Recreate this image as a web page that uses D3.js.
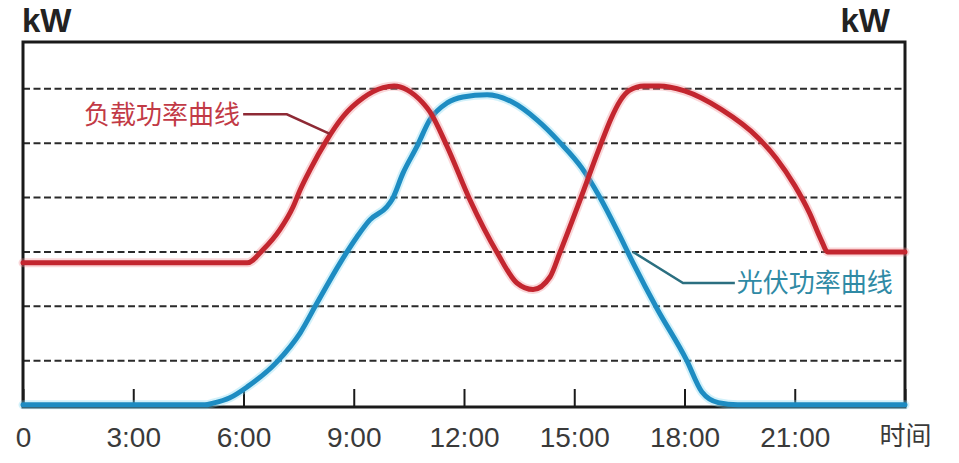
<!DOCTYPE html>
<html>
<head>
<meta charset="utf-8">
<script src="https://cdn.jsdelivr.net/npm/d3@7"></script>
<style>body{margin:0;background:#fff}svg{display:block}</style>
</head>
<body>
<svg id="chart" width="959" height="463"></svg>
<script>
// ---- data ----
const tickHours = [0, 3, 6, 9, 12, 15, 18, 21, 24];
const tickLabels = ["0", "3:00", "6:00", "9:00", "12:00", "15:00", "18:00", "21:00", "时间"];
const gridValues = [1, 2, 3, 4, 5, 6];
const unitLabel = "kW";

const loadName = "负载功率曲线";
const loadHours = [0, 6.10, 6.53, 6.99, 7.35, 7.54, 7.81, 8.27, 8.71, 9.25, 9.80, 10.10, 10.45, 10.88, 11.07, 11.54, 12.16, 12.90, 13.44, 13.88, 14.34, 14.61, 15.16, 15.70, 16.00, 16.25, 16.50, 16.90, 17.30, 18.00, 19.00, 20.00, 20.50, 21.00, 21.40, 21.72, 21.90, 24];
const loadKW    = [2.80, 2.80, 3.04, 3.41, 3.83, 4.14, 4.51, 5.06, 5.49, 5.83, 6.02, 6.05, 5.98, 5.74, 5.58, 4.94, 3.96, 2.99, 2.43, 2.31, 2.54, 2.99, 3.96, 4.94, 5.45, 5.78, 5.97, 6.05, 6.05, 5.96, 5.62, 5.10, 4.72, 4.22, 3.72, 3.22, 3.00, 3.00];

const pvName = "光伏功率曲线";
const pvHours = [0, 4.95, 5.17, 5.63, 6.10, 6.91, 7.54, 8.00, 8.63, 9.09, 9.44, 9.90, 10.04, 10.34, 10.72, 11.07, 11.54, 11.97, 12.63, 13.30, 14.00, 14.60, 15.20, 15.70, 16.20, 16.60, 17.25, 18.05, 18.47, 18.92, 19.45, 24];
const pvKW    = [0.19, 0.19, 0.22, 0.32, 0.52, 0.98, 1.51, 2.06, 2.80, 3.28, 3.59, 3.83, 3.96, 4.45, 4.94, 5.43, 5.74, 5.85, 5.89, 5.76, 5.42, 5.02, 4.55, 4.00, 3.35, 2.80, 1.96, 1.02, 0.43, 0.23, 0.19, 0.19];

// annotation leader lines, in data coordinates [hour, kW]
const loadLeader = [[5.99, 5.53], [7.18, 5.53], [8.35, 5.17]];
const pvLeader   = [[16.60, 3.00], [17.96, 2.43], [19.37, 2.43]];

// ---- chart ----
const svg = d3.select("#chart");
const x = d3.scaleLinear().domain([0, 24]).range([23, 905]);
const y = d3.scaleLinear().domain([0.15, 6.86]).range([407, 42]);

const latin = '"Liberation Sans", Arial, "Noto Sans CJK SC", sans-serif';
const cjk = '"Noto Sans CJK SC", sans-serif';

svg.append("rect").attr("width", 959).attr("height", 463).attr("fill", "#ffffff");

// grid
svg.append("g").selectAll("line").data(gridValues).join("line")
  .attr("x1", x(0)).attr("x2", x(24))
  .attr("y1", d => y(d)).attr("y2", d => y(d))
  .attr("stroke", "#2a2a2a").attr("stroke-width", 2)
  .attr("stroke-dasharray", "7,3.5");

// frame
svg.append("rect")
  .attr("x", x(0)).attr("y", y.range()[1])
  .attr("width", x(24) - x(0)).attr("height", y.range()[0] - y.range()[1])
  .attr("fill", "none").attr("stroke", "#1a1a1a").attr("stroke-width", 3);

// x axis
const axis = d3.axisBottom(x).tickValues(tickHours)
  .tickFormat((d, i) => tickLabels[i]).tickSize(-18).tickPadding(20);
const gx = svg.append("g").attr("transform", `translate(0,${y.range()[0]})`).call(axis);
gx.select(".domain").remove();
gx.selectAll(".tick line").attr("stroke", "#1a1a1a").attr("stroke-width", 2);
gx.selectAll(".tick text")
  .attr("font-size", 28).attr("font-family", latin).attr("fill", "#3a3a3a");
gx.selectAll(".tick text").filter((d, i) => i === tickLabels.length - 1)
  .attr("font-size", 26).attr("font-family", cjk);

// unit labels
svg.append("text").attr("x", 22).attr("y", 32).text(unitLabel)
  .attr("font-family", latin).attr("font-weight", "bold").attr("font-size", 33).attr("fill", "#222");
svg.append("text").attr("x", 890).attr("y", 32).attr("text-anchor", "end").text(unitLabel)
  .attr("font-family", latin).attr("font-weight", "bold").attr("font-size", 33).attr("fill", "#222");

// curves
const line = d3.line().x(d => x(d[0])).y(d => y(d[1])).curve(d3.curveMonotoneX);
const pvData = pvHours.map((h, i) => [h, pvKW[i]]);
const loadData = loadHours.map((h, i) => [h, loadKW[i]]);

function drawCurve(data, halo, color) {
  svg.append("path").datum(data).attr("d", line)
    .attr("fill", "none").attr("stroke", halo).attr("stroke-width", 9)
    .attr("stroke-opacity", 0.35).attr("stroke-linejoin", "round").attr("stroke-linecap", "round");
  svg.append("path").datum(data).attr("d", line)
    .attr("fill", "none").attr("stroke", color).attr("stroke-width", 5)
    .attr("stroke-linejoin", "round").attr("stroke-linecap", "round");
}
drawCurve(pvData, "#7fd8f2", "#1d8cc2");
drawCurve(loadData, "#f08a90", "#c3262f");

// annotations
const leader = d3.line().x(d => x(d[0])).y(d => y(d[1]));
svg.append("path").datum(loadLeader).attr("d", leader)
  .attr("fill", "none").attr("stroke", "#8e2a35").attr("stroke-width", 2.5);
svg.append("text")
  .attr("x", x(loadLeader[0][0]) - 3).attr("y", y(loadLeader[0][1]))
  .attr("dy", "0.36em").attr("text-anchor", "end")
  .attr("font-family", cjk).attr("font-size", 26).attr("fill", "#c23a46").text(loadName);

svg.append("path").datum(pvLeader).attr("d", leader)
  .attr("fill", "none").attr("stroke", "#2b6f80").attr("stroke-width", 2.5);
svg.append("text")
  .attr("x", x(pvLeader[2][0]) + 2).attr("y", y(pvLeader[2][1]))
  .attr("dy", "0.36em").attr("text-anchor", "start")
  .attr("font-family", cjk).attr("font-size", 26).attr("fill", "#2f8aa5").text(pvName);
</script>
</body>
</html>
